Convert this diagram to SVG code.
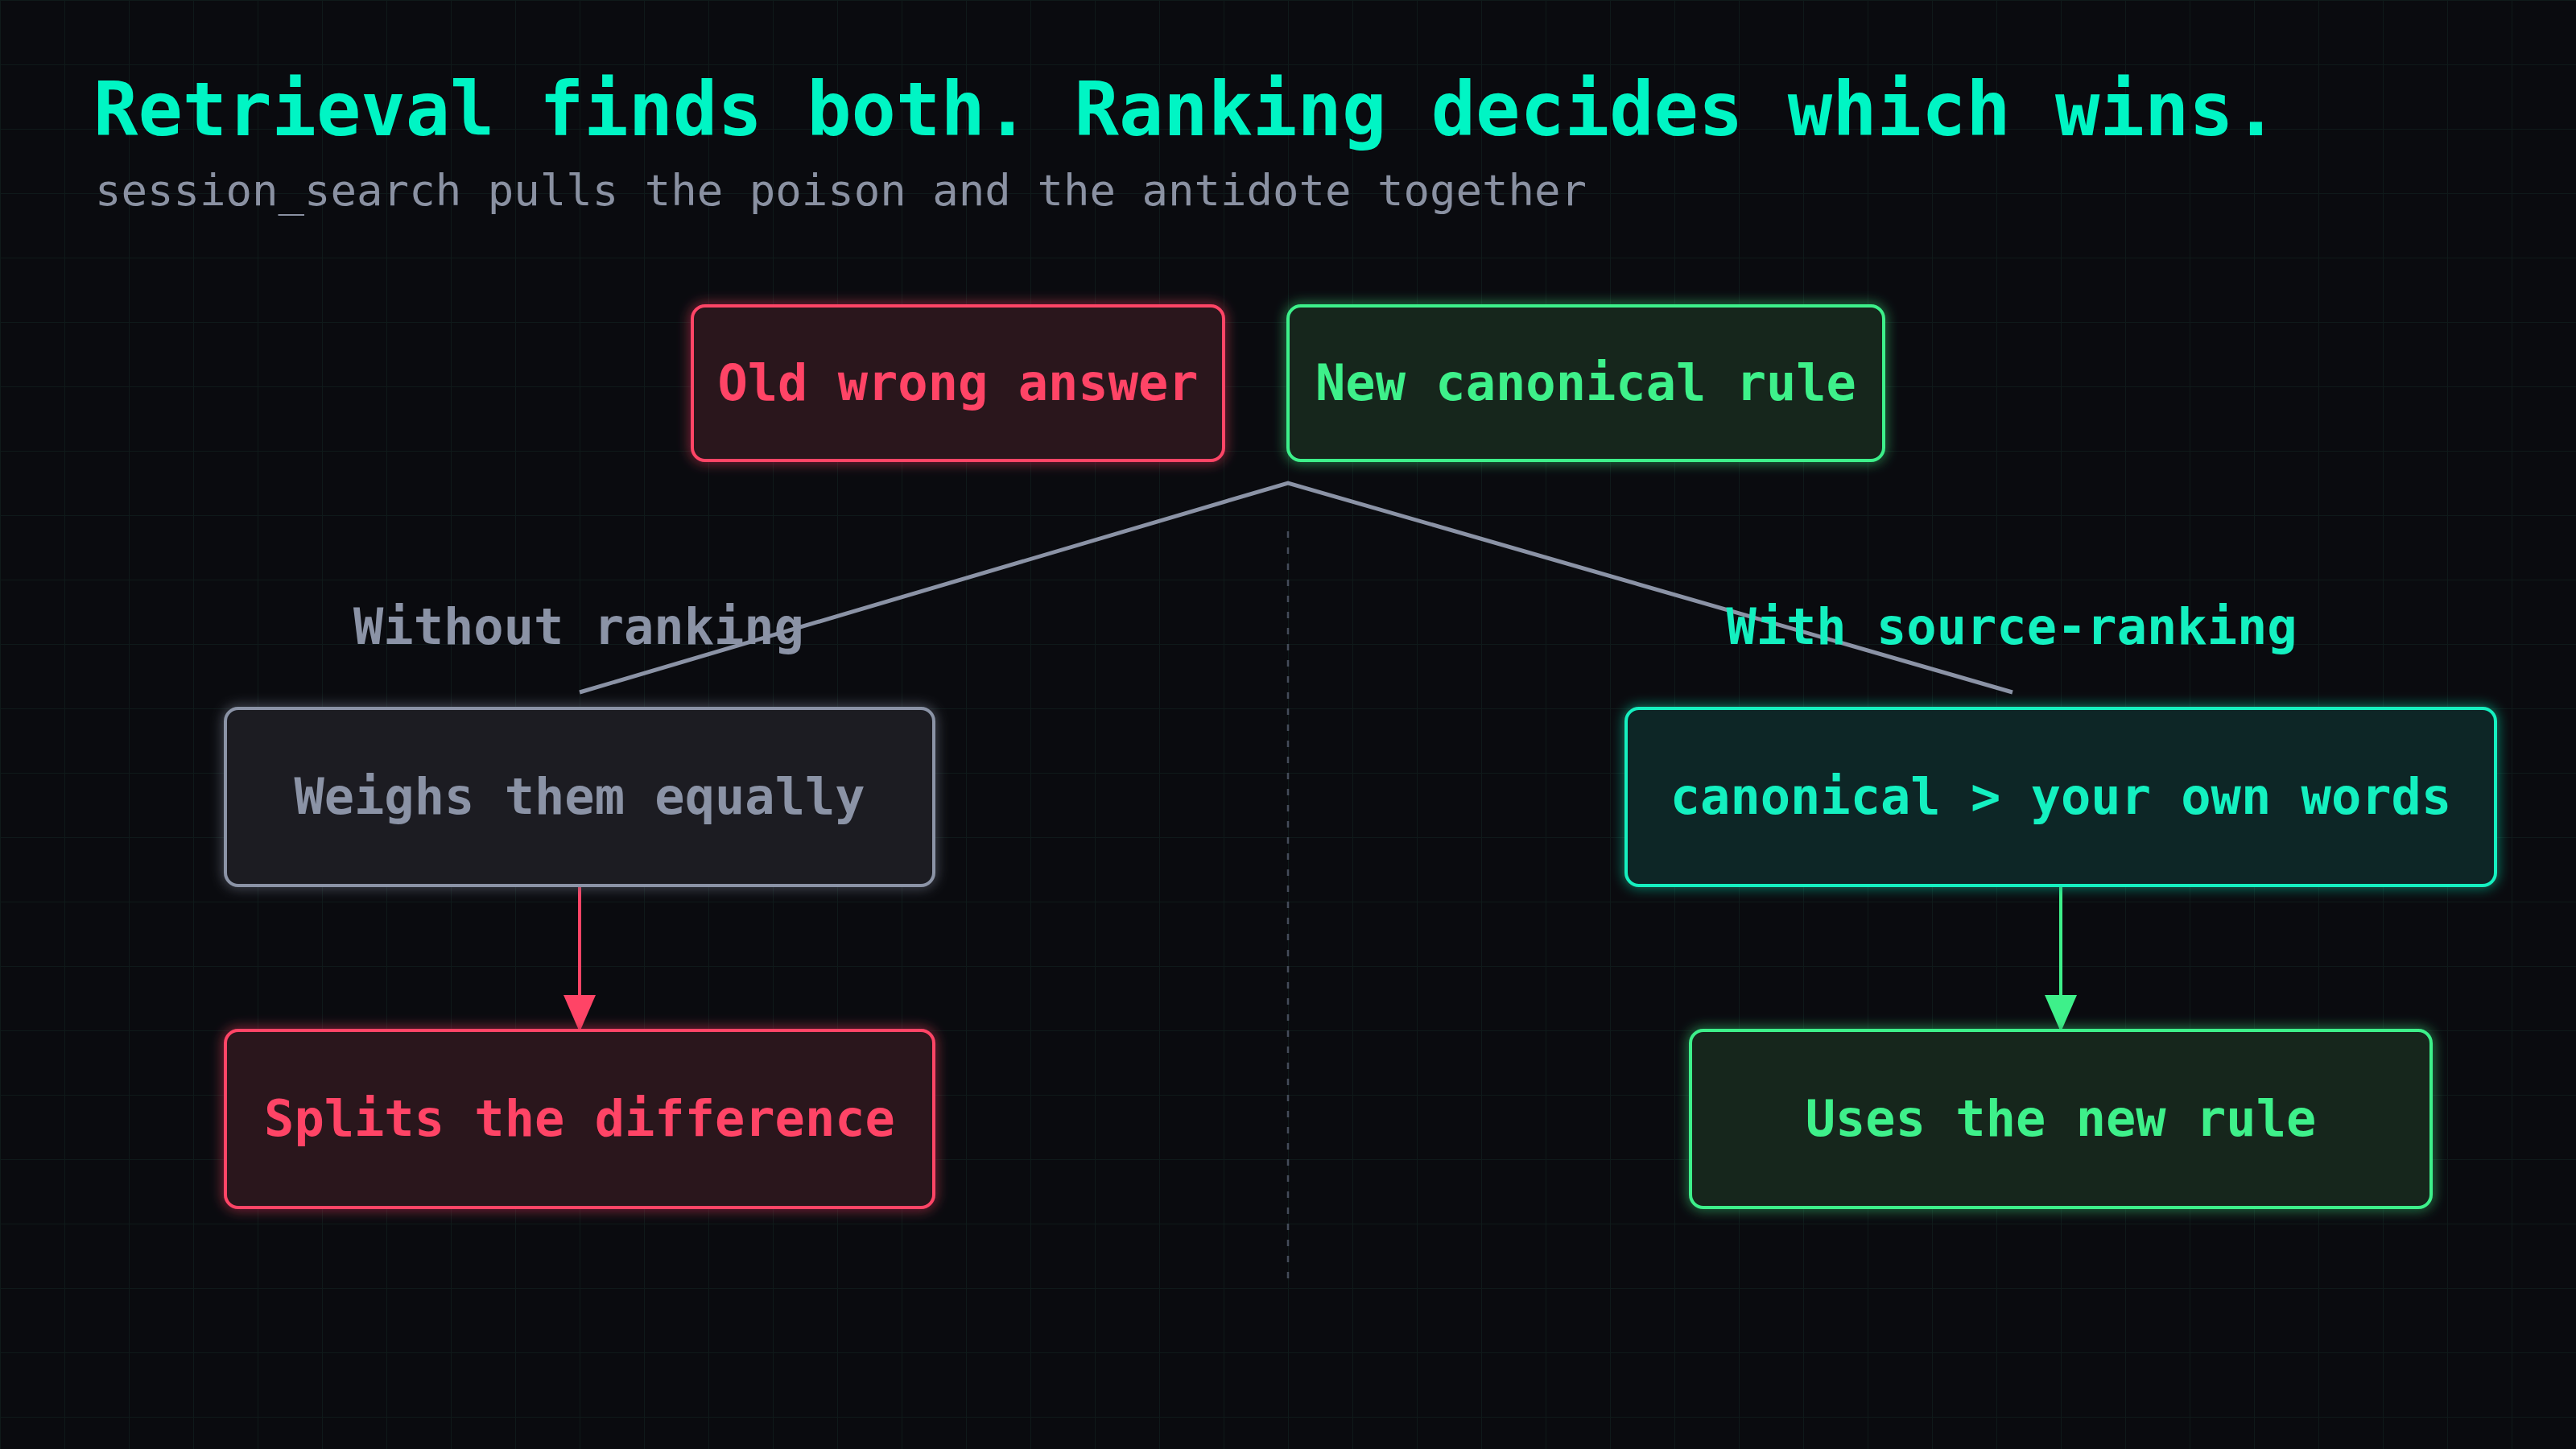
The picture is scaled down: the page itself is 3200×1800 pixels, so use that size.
<svg xmlns="http://www.w3.org/2000/svg" width="3200" height="1800" viewBox="0 0 3200 1800">
  <defs>
    <pattern id="grid" width="80" height="80" patternUnits="userSpaceOnUse">
      <path d="M80 0 L0 0 0 80" fill="none" stroke="#0f1a1a" stroke-width="2"/>
    </pattern>
    <filter id="glow" x="-10%" y="-20%" width="120%" height="140%">
      <feGaussianBlur in="SourceGraphic" stdDeviation="8" result="b"/>
      <feComponentTransfer in="b" result="b2"><feFuncA type="linear" slope="0.8"/></feComponentTransfer>
      <feMerge><feMergeNode in="b2"/><feMergeNode in="SourceGraphic"/></feMerge>
    </filter>
    <marker id="arrRed" viewBox="0 0 46 40" refX="46" refY="20" markerWidth="46" markerHeight="40" markerUnits="userSpaceOnUse" orient="auto">
      <path d="M0 0 L46 20 L0 40 Z" fill="#ff4466"/>
    </marker>
    <marker id="arrGreen" viewBox="0 0 46 40" refX="46" refY="20" markerWidth="46" markerHeight="40" markerUnits="userSpaceOnUse" orient="auto">
      <path d="M0 0 L46 20 L0 40 Z" fill="#3ef08a"/>
    </marker>
    <style>
      .t { font-family: "DejaVu Sans Mono", "Liberation Mono", monospace; font-weight: bold; font-size: 62px; text-anchor: middle; }
      .box { stroke-width: 4; filter: url(#glow); }
      .red { fill: #2a131b; stroke: #ff4466; }
      .green { fill: #12251d; stroke: #3ef08a; }
      .cyan { fill: #0a2727; stroke: #14f0c0; }
      .gray { fill: #1a1c23; stroke: #8b93a6; }
      .tred { fill: #ff4466; }
      .tgreen { fill: #3ef08a; }
      .tcyan { fill: #14f0c0; }
      .tgray { fill: #8b93a6; }
    </style>
  </defs>

  <rect width="3200" height="1800" fill="#0a0b0f"/>
  <rect width="3200" height="1800" fill="url(#grid)"/>

  <g id="header">
    <text x="116" y="168" font-family="DejaVu Sans Mono, Liberation Mono, monospace" font-weight="bold" font-size="92" fill="#00f5c4">Retrieval finds both. Ranking decides which wins.</text>
    <text x="118" y="255" font-family="DejaVu Sans Mono, Liberation Mono, monospace" font-size="54" fill="#8a91a2">session_search pulls the poison and the antidote together</text>
  </g>

  <g id="connectors">
    <line x1="1600" y1="660" x2="1600" y2="1588" stroke="#454c5a" stroke-width="2.5" stroke-dasharray="8 12"/>
    <polyline points="720,860 1600,600 2500,860" fill="none" stroke="#8b93a6" stroke-width="5"/>
    <line x1="720" y1="1100" x2="720" y2="1282" stroke="#ff4466" stroke-width="4" marker-end="url(#arrRed)"/>
    <line x1="2560" y1="1100" x2="2560" y2="1282" stroke="#3ef08a" stroke-width="4" marker-end="url(#arrGreen)"/>
  </g>

  <g id="node-old">
    <rect class="box red" x="860" y="380" width="660" height="192" rx="16"/>
    <text class="t tred" x="1190" y="497">Old wrong answer</text>
  </g>

  <g id="node-new">
    <rect class="box green" x="1600" y="380" width="740" height="192" rx="16"/>
    <text class="t tgreen" x="1970" y="497">New canonical rule</text>
  </g>

  <g id="label-without">
    <text class="t tgray" x="719" y="800">Without ranking</text>
  </g>

  <g id="label-with">
    <text class="t tcyan" x="2499" y="800">With source-ranking</text>
  </g>

  <g id="node-weighs">
    <rect class="box gray" x="280" y="880" width="880" height="220" rx="16"/>
    <text class="t tgray" x="720" y="1011">Weighs them equally</text>
  </g>

  <g id="node-canonical">
    <rect class="box cyan" x="2020" y="880" width="1080" height="220" rx="16"/>
    <text class="t tcyan" x="2560" y="1011">canonical &gt; your own words</text>
  </g>

  <g id="node-splits">
    <rect class="box red" x="280" y="1280" width="880" height="220" rx="16"/>
    <text class="t tred" x="720" y="1411">Splits the difference</text>
  </g>

  <g id="node-uses">
    <rect class="box green" x="2100" y="1280" width="920" height="220" rx="16"/>
    <text class="t tgreen" x="2560" y="1411">Uses the new rule</text>
  </g>
</svg>
